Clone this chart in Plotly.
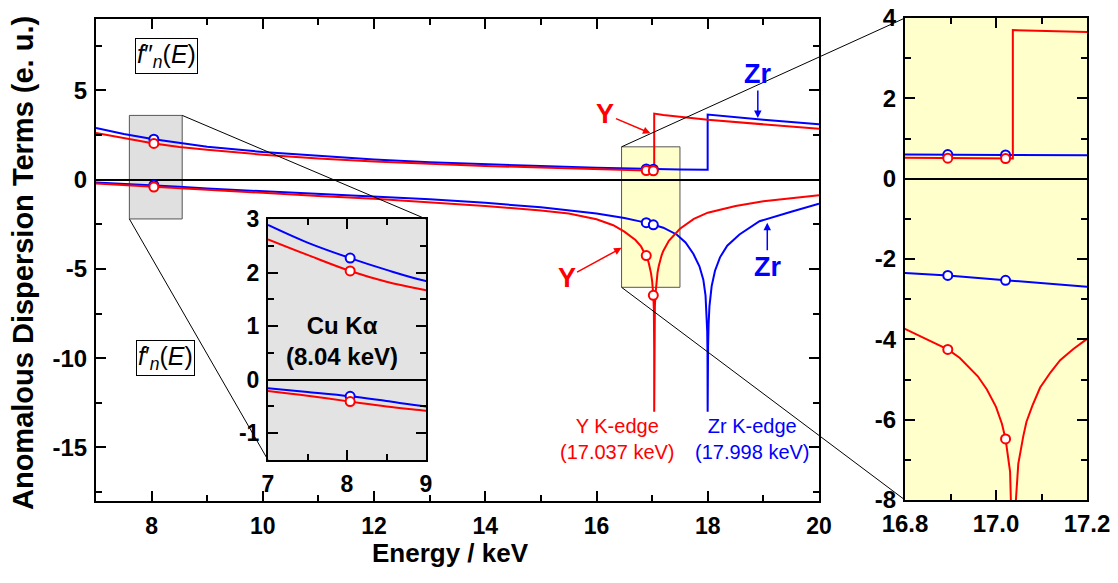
import plotly.graph_objects as go

# ---------------- data ----------------
# f''(E) imaginary part
E_fpp_Y = [7.0, 7.5, 8.04, 8.5, 9.0, 10.0, 11.0, 12.0, 13.0, 14.0, 15.0, 16.0, 16.8, 16.894,
           17.021, 17.037, 17.037, 17.2, 18.0, 19.0, 20.0]
fpp_Y = [2.62, 2.33, 2.03, 1.83, 1.67, 1.40, 1.18, 1.02, 0.88, 0.77, 0.68, 0.60, 0.52, 0.51,
         0.50, 0.50, 3.70, 3.62, 3.35, 3.10, 2.85]
E_fpp_Zr = [7.0, 7.5, 8.04, 8.5, 9.0, 10.0, 11.0, 12.0, 13.0, 14.0, 15.0, 16.0, 16.8, 16.894,
            17.021, 17.2, 17.5, 17.998, 17.998, 19.0, 20.0]
fpp_Zr = [2.89, 2.56, 2.27, 2.05, 1.84, 1.55, 1.32, 1.13, 0.98, 0.86, 0.76, 0.67, 0.60, 0.60,
          0.59, 0.58, 0.57, 0.55, 3.65, 3.35, 3.10]

# f'(E) real part
E_fp_Y = [7.0, 7.5, 8.04, 8.5, 9.0, 10.0, 11.0, 12.0, 13.0, 14.0, 15.0, 15.5, 16.0, 16.3, 16.5,
          16.7, 16.8, 16.848, 16.894, 16.92, 16.943, 16.96, 16.98, 17.0, 17.013, 17.021, 17.031,
          17.0345, 17.0362, 17.037, 17.0378, 17.042, 17.049, 17.06, 17.067, 17.08, 17.097, 17.12,
          17.141, 17.17, 17.2, 17.3, 17.5, 17.75, 18.0, 18.5, 19.0, 19.5, 20.0]
fp_Y = [-0.21, -0.30, -0.41, -0.50, -0.58, -0.74, -0.91, -1.07, -1.25, -1.47, -1.73, -1.90, -2.22,
        -2.55, -2.91, -3.38, -3.74, -4.00, -4.25, -4.46, -4.72, -4.92, -5.25, -5.68, -6.10, -6.48,
        -7.30, -8.30, -9.50, -13.0, -9.50, -8.30, -7.10, -6.41, -6.05, -5.65, -5.20, -4.82,
        -4.52, -4.24, -3.99, -3.42, -2.75, -2.20, -1.85, -1.48, -1.21, -1.02, -0.87]
E_fp_Zr = [7.0, 7.5, 8.04, 8.5, 9.0, 10.0, 11.0, 12.0, 13.0, 14.0, 15.0, 16.0, 16.5, 16.8, 16.894,
           17.021, 17.2, 17.44, 17.6, 17.74, 17.85, 17.92, 17.96, 17.98, 17.99, 17.995, 17.998,
           18.001, 18.006, 18.015, 18.03, 18.07, 18.13, 18.22, 18.35, 18.57, 18.93, 19.5, 20.0]
fp_Zr = [-0.16, -0.23, -0.31, -0.40, -0.50, -0.64, -0.79, -0.94, -1.10, -1.30, -1.55, -1.90, -2.15,
         -2.35, -2.41, -2.53, -2.69, -3.07, -3.52, -4.15, -4.85, -5.60, -6.50, -7.45, -8.50, -9.70,
         -13.0, -10.5, -9.30, -8.10, -7.10, -5.96, -5.10, -4.35, -3.70, -3.07, -2.33, -1.80, -1.35]

# measured points (open circles)
E_mark = [8.04, 16.894, 17.021]
fpp_Y_mark = [2.03, 0.51, 0.50]
fpp_Zr_mark = [2.27, 0.60, 0.59]
fp_Y_mark = [-0.41, -4.25, -6.48]
fp_Zr_mark = [-0.31, -2.41, -2.53]

# tick labels (hyphen minus as in the reference)
main_yticks = [-15, -10, -5, 0, 5]
main_yticklabels = ["-15", "-10", "-5", "0", "5"]
cu_yticks = [-1, 0, 1, 2, 3]
cu_yticklabels = ["-1", "0", "1", "2", "3"]
edge_yticks = [-8, -6, -4, -2, 0, 2, 4]
edge_yticklabels = ["-8", "-6", "-4", "-2", "0", "2", "4"]

# zoom boxes on main axes
cu_box = dict(x0=7.6, x1=8.55, y0=-2.2, y1=3.6)
edge_box = dict(x0=16.45, x1=17.5, y0=-6.03, y1=1.84)

RED = "#ff0000"
BLUE = "#0000ff"
W, H = 1118, 583

# ---------------- layout geometry ----------------
dom = {
    "main": dict(x=[96 / W, 819 / W], y=[1 - 501 / H, 1 - 19 / H], xr=[7, 20], yr=[-18, 9]),
    "cu": dict(x=[268 / W, 426 / W], y=[1 - 460 / H, 1 - 219 / H], xr=[7, 9], yr=[-1.5, 3]),
    "edge": dict(x=[905 / W, 1087 / W], y=[1 - 500 / H, 1 - 18 / H], xr=[16.8, 17.2], yr=[-8, 4]),
}


def px(name, v):
    d = dom[name]
    return d["x"][0] + (v - d["xr"][0]) / (d["xr"][1] - d["xr"][0]) * (d["x"][1] - d["x"][0])


def py(name, v):
    d = dom[name]
    return d["y"][0] + (v - d["yr"][0]) / (d["yr"][1] - d["yr"][0]) * (d["y"][1] - d["y"][0])


fig = go.Figure()

axsets = [("x", "y", "linear"), ("x2", "y2", "spline"), ("x3", "y3", "linear")]
for xa, ya, shp in axsets:
    for ex, vals, col in [(E_fpp_Zr, fpp_Zr, BLUE), (E_fpp_Y, fpp_Y, RED),
                          (E_fp_Zr, fp_Zr, BLUE), (E_fp_Y, fp_Y, RED)]:
        fig.add_trace(go.Scatter(x=ex, y=vals, mode="lines",
                                 line=dict(color=col, width=2, shape=shp),
                                 xaxis=xa, yaxis=ya, hoverinfo="skip", showlegend=False))
    for vals, col in [(fpp_Zr_mark, BLUE), (fpp_Y_mark, RED), (fp_Zr_mark, BLUE), (fp_Y_mark, RED)]:
        fig.add_trace(go.Scatter(x=E_mark, y=vals, mode="markers",
                                 marker=dict(symbol="circle", size=9, color="white",
                                             line=dict(color=col, width=2)),
                                 xaxis=xa, yaxis=ya, hoverinfo="skip", showlegend=False))

FONT = "Liberation Sans, Arial"
tickfont = dict(family=FONT, size=24, color="black", weight="bold")


def axis(d, rng, dtick, mdtick, tick0=0, fmt=None, size=24, standoff=0, anchor=None,
         isy=False, tickvals=None, ticktext=None):
    a = dict(domain=d, range=rng, showline=True, linecolor="black", linewidth=2,
             mirror="allticks", ticks="inside", ticklen=10, tickwidth=1.5, tickcolor="black",
             showgrid=False, dtick=dtick, tick0=tick0, fixedrange=True,
             tickfont=dict(tickfont, size=size), ticklabelstandoff=standoff,
             minor=dict(ticks="inside", ticklen=6, tickwidth=1.5, tickcolor="black",
                        dtick=mdtick, tick0=tick0, showgrid=False),
             anchor=anchor, automargin=False)
    if fmt:
        a["tickformat"] = fmt
    if tickvals is not None:
        a.update(tickmode="array", tickvals=tickvals, ticktext=ticktext)
    if isy:
        a.update(zeroline=True, zerolinecolor="black", zerolinewidth=1.5)
    else:
        a.update(zeroline=False)
    return a


m, c, e = dom["main"], dom["cu"], dom["edge"]
xa1 = axis(m["x"], m["xr"], 2, 1, size=23, standoff=3, anchor="y")
ya1 = axis(m["y"], m["yr"], 5, 2.5, standoff=2, anchor="x", isy=True,
           tickvals=main_yticks, ticktext=main_yticklabels)
xa2 = axis(c["x"], c["xr"], 1, 0.5, size=23, standoff=2, anchor="y2")
ya2 = axis(c["y"], c["yr"], 1, 0.5, size=23, standoff=2, anchor="x2", isy=True,
           tickvals=cu_yticks, ticktext=cu_yticklabels)
xa3 = axis(e["x"], e["xr"], 0.2, 0.1, tick0=16.8, fmt=".1f", standoff=1, anchor="y3")
ya3 = axis(e["y"], e["yr"], 2, 1, standoff=2, anchor="x3", isy=True,
           tickvals=edge_yticks, ticktext=edge_yticklabels)

shapes = [
    # inset backgrounds
    dict(type="rect", xref="x2 domain", yref="y2 domain", x0=0, x1=1, y0=0, y1=1,
         fillcolor="#e3e3e3", line=dict(width=0), layer="below"),
    dict(type="rect", xref="x3 domain", yref="y3 domain", x0=0, x1=1, y0=0, y1=1,
         fillcolor="#ffffcc", line=dict(width=0), layer="below"),
    # zoom boxes
    dict(type="rect", xref="x", yref="y", **cu_box, fillcolor="#e0e0e0",
         line=dict(color="#555555", width=1), layer="below"),
    dict(type="rect", xref="x", yref="y", **edge_box, fillcolor="#ffffcc",
         line=dict(color="#555555", width=1), layer="below"),
    # connector lines
    dict(type="line", xref="paper", yref="paper",
         x0=px("main", cu_box["x1"]), y0=py("main", cu_box["y1"]),
         x1=px("cu", c["xr"][1]), y1=py("cu", c["yr"][1]), line=dict(color="black", width=1)),
    dict(type="line", xref="paper", yref="paper",
         x0=px("main", cu_box["x0"]), y0=py("main", cu_box["y0"]),
         x1=px("cu", c["xr"][0]), y1=py("cu", c["yr"][0]), line=dict(color="black", width=1)),
    dict(type="line", xref="paper", yref="paper",
         x0=px("main", edge_box["x0"]), y0=py("main", edge_box["y1"]),
         x1=px("edge", e["xr"][0]), y1=py("edge", e["yr"][1]), line=dict(color="black", width=1)),
    dict(type="line", xref="paper", yref="paper",
         x0=px("main", edge_box["x0"]), y0=py("main", edge_box["y0"]),
         x1=px("edge", e["xr"][0]), y1=py("edge", e["yr"][0]), line=dict(color="black", width=1)),
]

ann = [
    dict(text="Anomalous Dispersion Terms (e. u.)", xref="paper", yref="paper", x=23 / W,
         y=1 - 263 / H, textangle=-90, showarrow=False, xanchor="center", yanchor="middle",
         font=dict(family=FONT, size=29, color="black", weight="bold")),
    dict(text="Energy / keV", xref="paper", yref="paper", x=450 / W, y=1 - 553 / H,
         showarrow=False, xanchor="center", yanchor="middle",
         font=dict(family=FONT, size=26, color="black", weight="bold")),
    dict(text="<i>f</i>\u2033<sub><i>n</i></sub>(<i>E</i>)", xref="x", yref="y",
         x=8.27, y=6.9, showarrow=False, bordercolor="black", borderwidth=1, borderpad=1,
         bgcolor="white", font=dict(family=FONT, size=25, color="black")),
    dict(text="<i>f</i>\u2032<sub><i>n</i></sub>(<i>E</i>)", xref="x", yref="y",
         x=8.25, y=-10.0, showarrow=False, bordercolor="black", borderwidth=1, borderpad=1,
         bgcolor="white", font=dict(family=FONT, size=25, color="black")),
    # arrows with labels
    dict(text="Y", xref="x", yref="y", x=16.97, y=2.6, ax=-45, ay=-19, showarrow=True,
         arrowhead=2, arrowsize=1, arrowwidth=1.5, arrowcolor=RED,
         font=dict(family=FONT, size=27, color=RED, weight="bold")),
    dict(text="Zr", xref="x", yref="y", x=18.9, y=3.46, ax=0, ay=-44, showarrow=True,
         arrowhead=2, arrowsize=1, arrowwidth=1.5, arrowcolor=BLUE,
         font=dict(family=FONT, size=27, color=BLUE, weight="bold")),
    dict(text="Y", xref="x", yref="y", x=16.45, y=-3.82, ax=-55, ay=30, showarrow=True,
         arrowhead=2, arrowsize=1, arrowwidth=1.5, arrowcolor=RED,
         font=dict(family=FONT, size=27, color=RED, weight="bold")),
    dict(text="Zr", xref="x", yref="y", x=19.07, y=-2.42, ax=0, ay=44, showarrow=True,
         arrowhead=2, arrowsize=1, arrowwidth=1.5, arrowcolor=BLUE,
         font=dict(family=FONT, size=27, color=BLUE, weight="bold")),
    dict(text="Y K-edge<br>(17.037 keV)", xref="x", yref="y", x=16.38, y=-14.5,
         showarrow=False, font=dict(family=FONT, size=20, color=RED)),
    dict(text="Zr K-edge<br>(17.998 keV)", xref="x", yref="y", x=18.81, y=-14.5,
         showarrow=False, font=dict(family=FONT, size=20, color=BLUE)),
    dict(text="Cu K\u03b1<br>(8.04 keV)", xref="x2", yref="y2", x=7.94, y=0.72,
         showarrow=False, font=dict(family=FONT, size=24, color="black", weight="bold")),
]

fig.update_layout(
    width=W, height=H, autosize=False,
    margin=dict(l=0, r=0, t=0, b=0),
    paper_bgcolor="white", plot_bgcolor="rgba(0,0,0,0)",
    showlegend=False,
    xaxis=xa1, yaxis=ya1, xaxis2=xa2, yaxis2=ya2, xaxis3=xa3, yaxis3=ya3,
    shapes=shapes, annotations=ann,
)

fig.write_html("out.html", config={"displayModeBar": False},
               post_script="document.body.style.margin='0px';")
